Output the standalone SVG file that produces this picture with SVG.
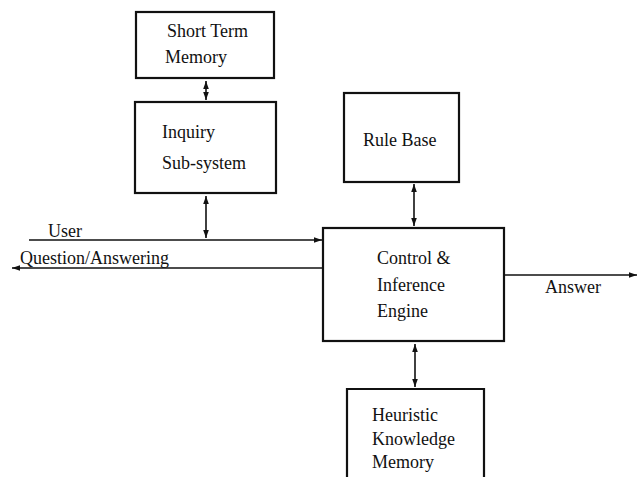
<svg xmlns="http://www.w3.org/2000/svg" width="640" height="477" viewBox="0 0 640 477">
<style>
.box{fill:none;stroke:#111;stroke-width:2.2}
.ln{fill:none;stroke:#111;stroke-width:1.6}
text{font-family:"Liberation Serif","Times New Roman",serif;font-size:18px;fill:#111}
</style>
<defs>
<marker id="ah" viewBox="0 0 10 10" refX="10" refY="5" markerWidth="5" markerHeight="5" orient="auto-start-reverse" markerUnits="strokeWidth">
<path d="M0,1.5 L10,5 L0,8.5 Z" fill="#111"/>
</marker>
</defs>
<rect width="640" height="477" fill="#fff"/>
<g id="stm"><rect class="box" x="136" y="12" width="138" height="66"/><text x="167" y="37">Short Term</text><text x="165" y="63">Memory</text></g>
<g id="inquiry"><rect class="box" x="135" y="102" width="141" height="91"/><text x="162" y="138">Inquiry</text><text x="162" y="169">Sub-system</text></g>
<g id="rulebase"><rect class="box" x="344" y="93" width="115" height="89"/><text x="363" y="146">Rule Base</text></g>
<g id="control"><rect class="box" x="323" y="228" width="181" height="113"/><text x="377" y="264">Control &amp;</text><text x="377" y="291">Inference</text><text x="377" y="317">Engine</text></g>
<g id="heuristic"><path class="box" d="M347,477 V389 H484 V477"/><text x="372" y="421">Heuristic</text><text x="372" y="445">Knowledge</text><text x="372" y="468">Memory</text></g>
<g id="labels"><text x="48" y="237">User</text><text x="20" y="264">Question/Answering</text><text x="545" y="293">Answer</text></g>
<g id="connectors">
<line class="ln" x1="206" y1="81" x2="206" y2="100" marker-start="url(#ah)" marker-end="url(#ah)"/>
<line class="ln" x1="206" y1="196" x2="206" y2="238" marker-start="url(#ah)" marker-end="url(#ah)"/>
<line class="ln" x1="29" y1="240" x2="322" y2="240" marker-end="url(#ah)"/>
<line class="ln" x1="322" y1="268" x2="12" y2="268" marker-end="url(#ah)"/>
<line class="ln" x1="414" y1="184" x2="414" y2="226" marker-start="url(#ah)" marker-end="url(#ah)"/>
<line class="ln" x1="415" y1="344" x2="415" y2="387" marker-start="url(#ah)" marker-end="url(#ah)"/>
<line class="ln" x1="505" y1="275" x2="637" y2="275" marker-end="url(#ah)"/>
</g>
</svg>
